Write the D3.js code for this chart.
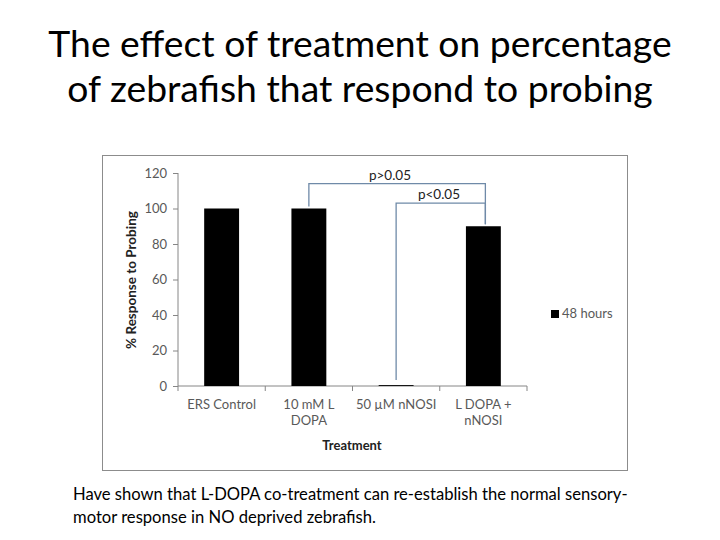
<!DOCTYPE html>
<html><head><meta charset="utf-8">
<script src="https://cdn.jsdelivr.net/npm/d3@7"></script>
<style>body{margin:0;background:#fff;} text{font-family:Lato,"Open Sans",sans-serif;}</style>
</head><body>
<svg id="c" width="720" height="540"></svg>
<script>
const categories = [["ERS Control"], ["10 mM L", "DOPA"], ["50 µM nNOSI"], ["L DOPA +", "nNOSI"]];
const values = [100, 100, 0.5, 90];
const yTicks = [0, 20, 40, 60, 80, 100, 120];
const seriesName = "48 hours";
const titleLines = ["The effect of treatment on percentage", "of zebrafish that respond to probing"];
const captionLines = ["Have shown that L-DOPA co-treatment can re-establish the normal sensory-", "motor response in NO deprived zebrafish."];
const brackets = [
  {from: 1, to: 3, level: 114, label: "p>0.05"},
  {from: 2, to: 3, level: 103, label: "p<0.05"}
];

const svg = d3.select("#c");
// Title
svg.append("g").selectAll("text").data(titleLines).join("text")
  .attr("x", 360).attr("y", (d,i) => 57 + i*45)
  .attr("text-anchor", "middle").attr("font-size", 37.3).attr("fill", "#000").text(d => d);

// chart frame
svg.append("rect").attr("x", 102.5).attr("y", 155.5).attr("width", 525).attr("height", 315)
  .attr("fill", "#fff").attr("stroke", "#8c8c8c").attr("stroke-width", 1);

const x = d3.scaleBand().domain(d3.range(categories.length)).range([178, 527]).paddingInner(0.6).paddingOuter(0.3);
const y = d3.scaleLinear().domain([0, 120]).range([386, 173]);
const grayAxis = "#868686";

// y axis
const ya = svg.append("g").attr("transform", "translate(178,0)")
  .call(d3.axisLeft(y).tickValues(yTicks).tickSize(5).tickPadding(6));
ya.select(".domain").attr("stroke", grayAxis).attr("d", `M0,${y(120)}V${y(0)}`);
ya.selectAll(".tick line").attr("stroke", grayAxis);
ya.selectAll(".tick text").attr("fill", "#595959").attr("font-size", 13).attr("font-family", "Lato, sans-serif");

// x axis
const xa = svg.append("g").attr("transform", `translate(0,${y(0)})`);
xa.append("line").attr("x1", 178).attr("x2", 527).attr("stroke", grayAxis);
const step = (527-178)/categories.length;
xa.selectAll("line.t").data(d3.range(categories.length+1)).join("line").attr("class","t")
  .attr("x1", i => 178 + i*step).attr("x2", i => 178 + i*step).attr("y1", 0).attr("y2", 5).attr("stroke", grayAxis);
const xl = xa.selectAll("text.c").data(categories).join("text").attr("class","c")
  .attr("text-anchor", "middle").attr("font-size", 13).attr("fill", "#595959")
  .attr("transform", (d,i) => `translate(${x(i)+x.bandwidth()/2},23)`);
xl.selectAll("tspan").data(d => d).join("tspan").attr("x", 0).attr("dy", (d,i) => i ? 16 : 0).text(d => d);

// bars
svg.append("g").selectAll("rect").data(values).join("rect")
  .attr("x", (d,i) => x(i)).attr("width", x.bandwidth())
  .attr("y", d => y(d)).attr("height", d => y(0) - y(d)).attr("fill", "#000");

// axis titles
svg.append("text").attr("x", 352).attr("y", 450).attr("text-anchor", "middle")
  .attr("font-size", 13).attr("font-weight", "bold").attr("fill", "#222").text("Treatment");
svg.append("text").attr("transform", "translate(136,280) rotate(-90)").attr("text-anchor", "middle")
  .attr("font-size", 13.5).attr("font-weight", "bold").attr("fill", "#222").text("% Response to Probing");

// legend
svg.append("rect").attr("x", 551).attr("y", 310).attr("width", 8).attr("height", 8).attr("fill", "#000");
svg.append("text").attr("x", 562).attr("y", 318).attr("font-size", 13).attr("fill", "#595959")
  .attr("font-family", "'Liberation Serif', serif").text(seriesName);

// significance brackets
const cx = i => x(i) + x.bandwidth()/2;
const bg = svg.append("g");
brackets.forEach((b, k) => {
  const yl = y(b.level);
  const startY = b.from === 2 ? 380 : y(values[b.from]) - 2;
  bg.append("path").attr("fill", "none").attr("stroke", "#6f8aa8").attr("stroke-width", 1.3)
    .attr("d", `M${cx(b.from)},${startY}V${yl}H${cx(b.to)+2}V${y(values[b.to]) - 2}`);
  bg.append("text").attr("x", k === 0 ? 390 : 439).attr("y", yl - 4).attr("text-anchor", "middle")
    .attr("font-size", 13.5).attr("fill", "#222").text(b.label);
});

// caption
svg.append("g").selectAll("text").data(captionLines).join("text")
  .attr("x", 73).attr("y", (d,i) => 500 + i*23).attr("font-size", 16.6).attr("fill", "#000").text(d => d);
</script>
</body></html>
